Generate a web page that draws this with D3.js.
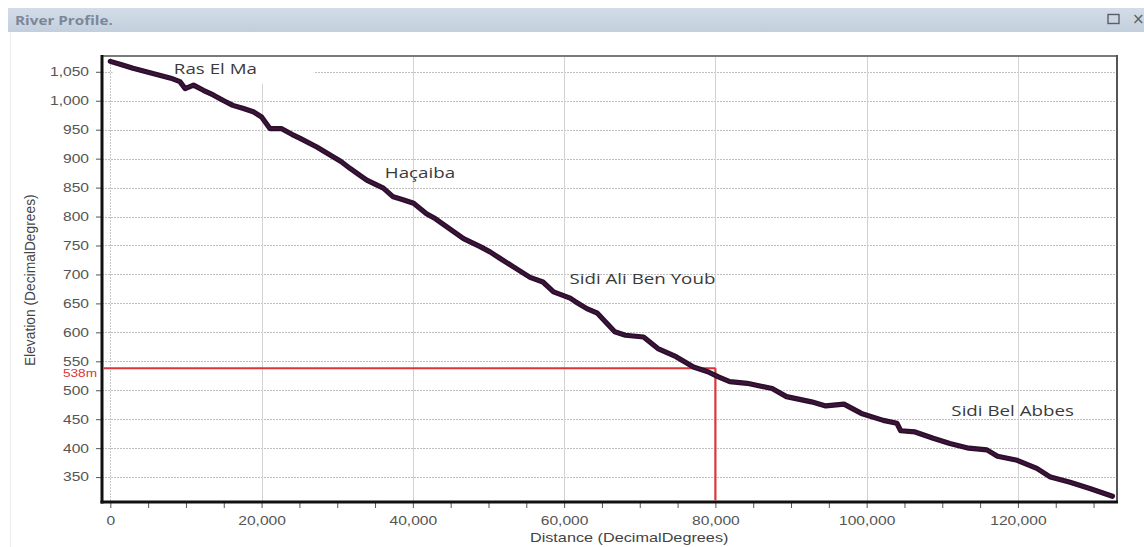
<!DOCTYPE html>
<html>
<head>
<meta charset="utf-8">
<script src="https://cdn.jsdelivr.net/npm/d3@7"></script>
<style>
  body { margin: 0; background: #fff; }
  svg { display: block; }
</style>
</head>
<body>
<svg id="chart" width="1144" height="547"></svg>
<script>
// River long profile: distance along the channel (m) vs bed elevation (m)
const distances = [
  0, 1500, 3000, 4500, 6500, 8000, 9200, 9900, 11000, 12300, 13600, 15000,
  16200, 17500, 18900, 20000, 21100, 22600, 24000, 25100, 27300, 29500, 30500,
  31700, 33000, 33900, 36100, 37400, 38700, 40100, 41800, 43000, 44500, 46700,
  48900, 50200, 51500, 53300, 55500, 57200, 58600, 60800, 61500, 63000, 64400,
  66700, 68100, 70500, 72400, 74800, 77100, 79000, 80400, 81900, 84200, 87500,
  89400, 92700, 94600, 97000, 99300, 102200, 104000, 104500, 106400, 108800,
  111000, 113500, 115900, 117300, 119900, 122500, 124300, 126900, 129600, 132500
];
const elevations = [
  1068, 1062, 1056, 1051, 1044, 1039, 1033, 1021, 1027, 1018, 1010, 1000,
  992, 987, 981, 972, 952, 952, 942, 935, 920, 903, 895,
  883, 871, 863, 849, 834, 829, 823, 805, 796, 782, 762,
  748, 739, 728, 713, 695, 687, 670, 659, 653, 641, 633,
  601, 595, 592, 572, 558, 540, 532, 523, 515, 512, 503,
  489, 480, 473, 476, 460, 448, 443, 430, 428, 417,
  408, 400, 397, 386, 379, 365, 350, 341, 330, 317
];

// Towns along the river and where their names sit (distance, elevation)
const placeNames = ["Ras El Ma", "Haçaiba", "Sidi Ali Ben Youb", "Sidi Bel Abbes"];
const placeDistances = [8400, 36300, 60700, 111200];
const placeElevations = [1047, 867, 683, 455];

// Reference point picked on the profile
const markerDistance = 80000;
const markerElevation = 538;
const markerLabel = "538m";

// Axis ticks
const distanceTicks = [0, 20000, 40000, 60000, 80000, 100000, 120000];
const distanceMinorStep = 5000;
const elevationTicks = [350, 400, 450, 500, 550, 600, 650, 700, 750, 800, 850, 900, 950, 1000, 1050];

const windowTitle = "River Profile.";
const xTitle = "Distance (DecimalDegrees)";
const yTitle = "Elevation (DecimalDegrees)";

// ---------------------------------------------------------------------------
const svg = d3.select("#chart");
const W = 1144, H = 547;
const plot = { left: 102, right: 1117, top: 55, bottom: 502 };
const SX = 1.3; // horizontal text stretch

const x = d3.scaleLinear().domain([-1100, 133100]).range([plot.left, plot.right]);
const y = d3.scaleLinear().domain([307, 1079]).range([plot.bottom, plot.top]);
const fmt = d3.format(",");

// window title bar
const defs = svg.append("defs");
const grad = defs.append("linearGradient").attr("id", "bar").attr("x1", 0).attr("x2", 0).attr("y1", 0).attr("y2", 1);
grad.append("stop").attr("offset", "0%").attr("stop-color", "#d3dce8");
grad.append("stop").attr("offset", "100%").attr("stop-color", "#c3cfdd");
svg.append("rect").attr("x", 8).attr("y", 8).attr("width", W - 8).attr("height", 24).attr("fill", "url(#bar)");
svg.append("text")
  .attr("transform", `translate(15,25) scale(1.22,1)`)
  .attr("font-family", "Open Sans").attr("font-weight", 700).attr("font-size", 12.5)
  .attr("fill", "#7b8798").text(windowTitle);
svg.append("rect").attr("x", 1108).attr("y", 14.5).attr("width", 11).attr("height", 9)
  .attr("fill", "none").attr("stroke", "#5a5f66").attr("stroke-width", 1.4);
svg.append("text").attr("x", 1132).attr("y", 24).attr("font-family", "DejaVu Sans")
  .attr("font-size", 15).attr("fill", "#5a5f66").text("×");

// faint window edge
svg.append("line").attr("x1", 10.5).attr("x2", 10.5).attr("y1", 32).attr("y2", H)
  .attr("stroke", "#ececec").attr("stroke-width", 1);

// grid
const grid = svg.append("g");
grid.selectAll("line.h").data(elevationTicks).join("line")
  .attr("x1", plot.left).attr("x2", plot.right)
  .attr("y1", d => Math.round(y(d)) + 0.5).attr("y2", d => Math.round(y(d)) + 0.5)
  .attr("stroke", "#bfbfbf").attr("stroke-width", 1).attr("stroke-dasharray", "2,1");
grid.selectAll("line.v").data(distanceTicks).join("line")
  .attr("x1", d => Math.round(x(d)) + 0.5).attr("x2", d => Math.round(x(d)) + 0.5)
  .attr("y1", plot.top).attr("y2", plot.bottom)
  .attr("stroke", d => d === 0 ? "#c8c8c8" : "#d2d2d2").attr("stroke-width", 1)
  .attr("stroke-dasharray", d => d === 0 ? "2,1" : null);

// white box behind the first town name
svg.append("rect")
  .attr("x", x(300)).attr("y", plot.top + 2)
  .attr("width", x(26900) - x(300)).attr("height", 27).attr("fill", "#fff");

// axes
const xMinor = d3.range(0, 130001, distanceMinorStep);
const xAxis = svg.append("g").attr("transform", `translate(0,${plot.bottom})`)
  .call(d3.axisBottom(x).tickValues(xMinor).tickSize(6).tickFormat(""));
xAxis.select(".domain").remove();
xAxis.selectAll(".tick line").attr("stroke", "#555");
const xLab = svg.append("g").attr("transform", `translate(0,${plot.bottom})`)
  .call(d3.axisBottom(x).tickValues(distanceTicks).tickSize(0).tickPadding(14).tickFormat(fmt));
xLab.select(".domain").remove();
xLab.selectAll("text")
  .attr("font-family", "Liberation Sans").attr("font-size", 12).attr("fill", "#555")
  .attr("transform", `scale(${SX},1)`);

const yAxis = svg.append("g").attr("transform", `translate(${plot.left},0)`)
  .call(d3.axisLeft(y).tickValues(elevationTicks).tickSize(6).tickPadding(4).tickFormat(fmt));
yAxis.select(".domain").remove();
yAxis.selectAll(".tick line").attr("stroke", "#555");
yAxis.selectAll("text")
  .attr("font-family", "Liberation Sans").attr("font-size", 12).attr("fill", "#555")
  .attr("x", -10).attr("transform", `scale(${SX},1)`);

// frame
svg.append("line").attr("x1", plot.left).attr("x2", plot.right).attr("y1", plot.top + 1).attr("y2", plot.top + 1)
  .attr("stroke", "#7a7a7a").attr("stroke-width", 2);
svg.append("line").attr("x1", plot.right).attr("x2", plot.right).attr("y1", plot.top).attr("y2", plot.bottom)
  .attr("stroke", "#555").attr("stroke-width", 2);
svg.append("line").attr("x1", plot.left).attr("x2", plot.left).attr("y1", plot.top).attr("y2", plot.bottom + 1.5)
  .attr("stroke", "#111").attr("stroke-width", 3);
svg.append("line").attr("x1", plot.left - 1.5).attr("x2", plot.right + 1).attr("y1", plot.bottom).attr("y2", plot.bottom)
  .attr("stroke", "#111").attr("stroke-width", 3);

// axis titles
svg.append("text")
  .attr("transform", `translate(${x(68600)},542) scale(${SX},1)`)
  .attr("text-anchor", "middle")
  .attr("font-family", "Liberation Sans").attr("font-size", 12.5).attr("fill", "#444")
  .text(xTitle);
svg.append("text")
  .attr("transform", `translate(35,${y(690)}) rotate(-90) scale(1.15,1.25)`)
  .attr("text-anchor", "middle")
  .attr("font-family", "Liberation Sans").attr("font-size", 12).attr("fill", "#444")
  .text(yTitle);

// reference point guides
const red = "#d9363b";
svg.append("line")
  .attr("x1", plot.left + 1.5).attr("x2", x(markerDistance))
  .attr("y1", y(markerElevation)).attr("y2", y(markerElevation))
  .attr("stroke", red).attr("stroke-width", 2);
svg.append("line")
  .attr("x1", x(markerDistance)).attr("x2", x(markerDistance))
  .attr("y1", y(markerElevation)).attr("y2", plot.bottom - 1.5)
  .attr("stroke", red).attr("stroke-width", 2.2);
svg.append("text")
  .attr("transform", `translate(${plot.left - 5},${y(markerElevation) + 9}) scale(${SX},1)`)
  .attr("text-anchor", "end")
  .attr("font-family", "Liberation Sans").attr("font-size", 10.5).attr("fill", "#d9363b")
  .text(markerLabel);

// profile
const profile = distances.map((d, i) => [d, elevations[i]]);
const line = d3.line().x(d => x(d[0])).y(d => y(d[1]));
svg.append("path").datum(profile).attr("d", line)
  .attr("fill", "none").attr("stroke", "#2c0f2b").attr("stroke-width", 5.2)
  .attr("stroke-linejoin", "round").attr("stroke-linecap", "round");
svg.append("path").datum(profile).attr("d", line)
  .attr("fill", "none").attr("stroke", "#48184a").attr("stroke-width", 1.6)
  .attr("stroke-linejoin", "round").attr("stroke-opacity", 0.7);

// town names
svg.append("g").selectAll("text").data(placeNames).join("text")
  .attr("transform", (d, i) => `translate(${x(placeDistances[i])},${y(placeElevations[i])}) scale(1.25,1)`)
  .attr("font-family", "Open Sans").attr("font-size", 15).attr("fill", "#3a3a3a")
  .text(d => d);
</script>
</body>
</html>
